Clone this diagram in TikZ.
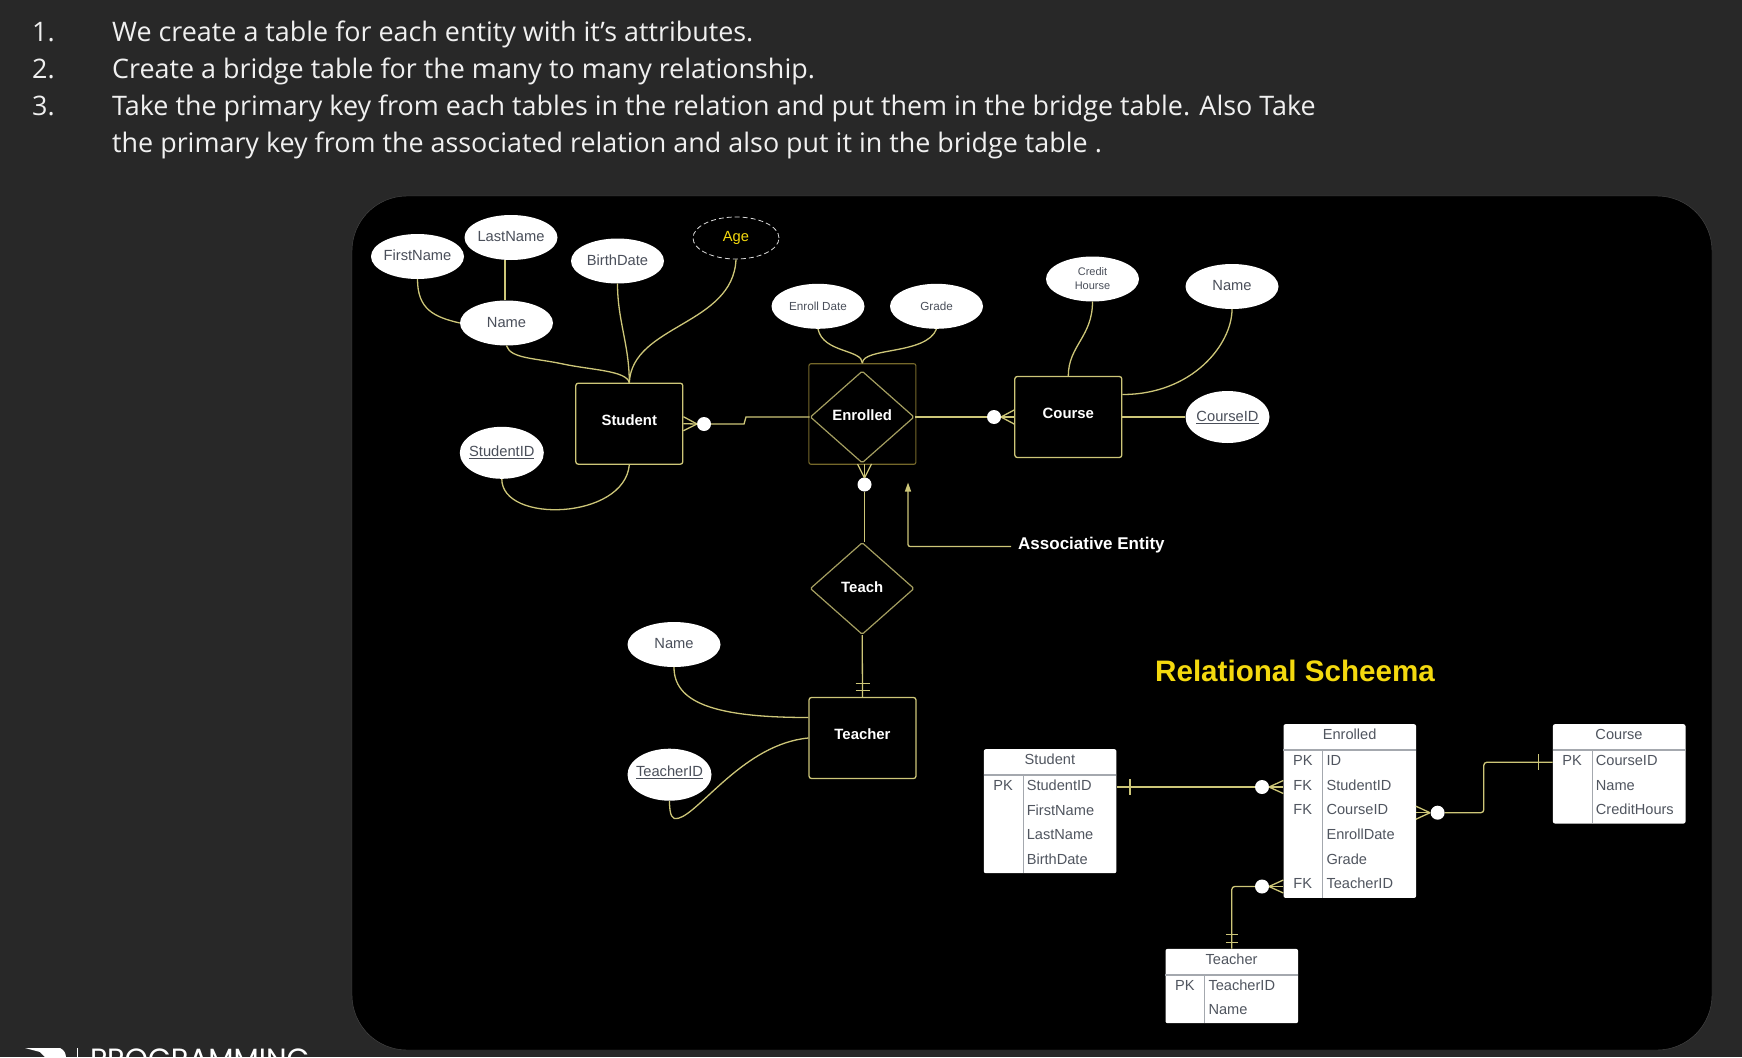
\documentclass[tikz,border=0pt]{standalone}
\usepackage{fontspec}
\setmainfont{Liberation Sans}
\newfontfamily\slidefont{Open Sans}
\newfontfamily\logofont{Poppins}
\usetikzlibrary{shapes.geometric,arrows.meta,calc}
\definecolor{slidebg}{HTML}{282828}
\definecolor{connline}{HTML}{CDC678}
\definecolor{dimline}{HTML}{75682A}
\definecolor{attrtext}{HTML}{4A4F5A}
\definecolor{tabletext}{HTML}{50555F}
\definecolor{tableline}{HTML}{A4A8AE}
\definecolor{agetext}{HTML}{F4D90E}
\newcommand{\fsize}[1]{\fontsize{#1}{#1}\selectfont}
\tikzset{
  panel/.style={fill=black, draw=black!70!white, rounded corners=55, minimum width=1360, minimum height=854, inner sep=0pt},
  slideline/.style={anchor=base west, inner sep=0pt, text=white!94!black, font=\slidefont\fsize{26.9}},
  attr/.style={ellipse, fill=white, text=attrtext, inner xsep=-10pt, inner ysep=0pt, minimum width=93, minimum height=45, text height=10.7, text depth=2.1, font=\fsize{14.7}},
  keyattr/.style={attr, inner xsep=-15pt, minimum width=84, minimum height=52},
  smallattr/.style={attr, font=\fsize{11.7}},
  entity/.style={draw=connline, line width=1.3pt, rounded corners=2.5, fill=black, text=white, inner sep=0pt, minimum width=107, minimum height=81, text height=10.7, text depth=7.1, font=\bfseries\fsize{14.9}},
  relation/.style={diamond, draw=connline!80!black, line width=1.2pt, rounded corners=1.5, text=white, inner sep=0pt, minimum width=104, minimum height=92, text height=10.7, text depth=3.1, font=\bfseries\fsize{14.9}},
  conn/.style={draw=connline, line width=1.3pt},
  dot/.style={circle, fill=white, inner sep=0pt, minimum size=14},
  tablebox/.style={fill=white, rounded corners=2, inner sep=0pt, anchor=north west, minimum width=132.6},
  tablecell/.style={text=tabletext, inner sep=0pt, text height=1.5ex, text depth=0.25ex, font=\fsize{14.6}},
}
\newcommand{\ertable}[6]{
  \node[tablebox, minimum height=#4] (#1) at (#2,#3) {};
  \draw[tableline, line width=1.6pt] (#2,{#3+26}) -- ({#2+132.6},{#3+26});
  \draw[tableline, line width=1pt] ({#2+39.5},{#3+26}) -- ({#2+39.5},{#3+#4});
  \node[tablecell] (#1-title) at ({#2+66.3},{#3+12.5}) {#5};
  \foreach \key/\field [count=\i] in {#6} {
    \node[tablecell] (#1-key-\i) at ({#2+19.5},{#3+38.3+(\i-1)*24.67}) {\key};
    \node[tablecell, anchor=west] (#1-field-\i) at ({#2+43},{#3+38.3+(\i-1)*24.67}) {\field};
  }
}
\begin{document}
\begin{tikzpicture}[x=1pt,y=-1pt]
  \useasboundingbox[fill=slidebg] (0,0) rectangle (1742,1057);
  \begin{scope}
    \clip (0,0) rectangle (1742,1057);
    \fill[white] (25,1048) -- (60,1048) .. controls (64,1050) and (66,1053) .. (66,1058) -- (46,1058) -- (40,1052) -- cycle;
    \draw[white, line width=0.8pt] (77,1048) -- (77,1058);
    \node[anchor=base west, inner sep=0pt, text=white, font=\logofont\fsize{29.3}] (logotext) at (90,1069) {PROGRAMMING};
  \end{scope}

  \node[slideline] (num1) at (32,41.3) {1.};
  \node[slideline] (num2) at (32,78.3) {2.};
  \node[slideline] (num3) at (32,115.3) {3.};
  \node[slideline] (line1) at (112,41.3) {We create a table for each entity with it’s attributes.};
  \node[slideline] (line2) at (112,78.3) {Create a bridge table for the many to many relationship.};
  \node[slideline] (line3) at (112,115.3) {Take the primary key from each tables in the relation and put them in the bridge table. Also Take};
  \node[slideline] (line4) at (112,152.3) {the primary key from the associated relation and also put it in the bridge table .};

  \node[panel] (board) at (1032,623) {};

  \node[entity] (student) at (629.3,423.7) {Student};
  \node[draw=dimline, line width=1.1pt, rounded corners=2, inner sep=0pt, minimum width=107, minimum height=100.5] (enrolledbox) at (862.4,414) {};
  \node[relation] (enrolled) at (862.2,417) {Enrolled};
  \node[entity] (course) at (1068.3,417) {Course};
  \node[relation] (teach) at (862.2,588.5) {Teach};
  \node[entity] (teacher) at (862.5,738) {Teacher};

  \node[attr] (firstname) at (417.5,256.5) {FirstName};
  \node[attr] (lastname) at (511,237.5) {LastName};
  \node[attr] (birthdate) at (617.5,261) {BirthDate};
  \node[attr] (name) at (506.5,323) {Name};
  \node[ellipse, draw=white!85!black, dash pattern=on 5pt off 3pt, line width=0.8pt, inner sep=0pt, minimum width=86, minimum height=42, text=agetext, font=\fsize{14.7}] (age) at (736,238) {Age};
  \node[keyattr, text depth=3.5] (studentid) at (501.8,452.8) {\underline{StudentID}};
  \node[smallattr] (enrolldate) at (818,306.3) {Enroll Date};
  \node[smallattr] (grade) at (936.5,306.3) {Grade};
  \node[attr, text height=, text depth=, align=center, font=\fsize{11}] (credit) at (1092.5,279) {Credit\\[3pt]Hourse};
  \node[attr] (coursename) at (1232,286.5) {Name};
  \node[keyattr] (courseid) at (1227.5,417) {\underline{CourseID}};
  \node[attr] (teachername) at (674,644.5) {Name};
  \node[keyattr, text depth=7] (teacherid) at (669.5,774.7) {\underline{TeacherID}};

  \draw[conn] (firstname.south) .. controls +(0,30) and +(-26,-6) .. (name.west);
  \draw[conn] (name.north -| 505,0) -- (lastname.south -| 505,0);
  \draw[conn] (name.south) .. controls +(4,13) and +(-28,-6) .. (563,364) .. controls +(28,6) and +(-3,-12) .. (student.north);
  \draw[conn] (birthdate.south) .. controls +(0,37) and +(0,-38) .. (student.north);
  \draw[conn] (age.south) .. controls +(-3,66) and +(3,-58) .. (student.north);
  \draw[conn] (studentid.south) .. controls +(0,45) and +(-5,55) .. (student.south);
  \draw[conn] (enrolldate.south) .. controls +(5,24) and +(0,-14) .. (enrolledbox.north);
  \draw[conn] (grade.south) .. controls +(-10,26) and +(0,-16) .. (enrolledbox.north);
  \draw[conn] (credit.south) .. controls +(0,35) and +(0,-30) .. (course.north);
  \draw[conn] (coursename.south) .. controls +(0,35) and +(70,0) .. ($(course.east)+(0,-22.5)$);
  \draw[conn] (course.east) -- (courseid.west);
  \draw[conn] (teachername.south) .. controls +(0,35) and +(-95,0) .. ($(teacher.west)+(0,-20.5)$);
  \draw[conn] (teacherid.south) .. controls +(0,15) and +(-6,2) .. (678.3,818.3) .. controls +(22,-6) and +(-64,6) .. (teacher.west);

  \node[dot] (dotstudent) at (704,424) {};
  \node[dot] (dotcourse) at (994,417) {};
  \node[dot] (dotenrolled) at (864.5,484.5) {};
  \draw[conn] (dotstudent) -- (744,424) -- (746,417) -- (enrolled.west);
  \draw[conn] (enrolled.east) -- (dotcourse);
  \draw[conn] (dotenrolled) -- (dotenrolled |- teach.north);
  \draw[conn] (teach.south) -- (teacher.north);
  \foreach \dy in {-7,0,7} {
    \draw[conn] (697,424) -- ($(student.east)+(0,\dy)$);
    \draw[conn] (1001,417) -- ($(course.west)+(0,\dy)$);
    \draw[conn] (864.5,478) -- (864.5+\dy,464);
  }
  \draw[conn] (855.5,683.5) -- (869.5,683.5);
  \draw[conn] (855.5,690.7) -- (869.5,690.7);

  \node[inner sep=0pt, anchor=west, text=white, font=\bfseries\fsize{17}] (assoclabel) at (1018,545) {Associative Entity};
  \draw[conn, rounded corners=2, -{Triangle[width=6,length=9]}] ($(assoclabel.west)+(-7,1.5)$) -| (908,482.5);

  \node[inner sep=0pt, text=agetext, font=\bfseries\fsize{29.6}] (schematitle) at (1295,671) {Relational Scheema};

  \ertable{tstudent}{983.6}{749}{124}{Student}{PK/StudentID,{}/FirstName,{}/LastName,{}/BirthDate}
  \ertable{tenrolled}{1283.3}{724}{173.7}{Enrolled}{PK/ID,FK/StudentID,FK/CourseID,{}/EnrollDate,{}/Grade,FK/TeacherID}
  \ertable{tcourse}{1552.7}{724}{99.3}{Course}{PK/CourseID,{}/Name,{}/CreditHours}
  \ertable{tteacher}{1165.3}{948.7}{74.3}{Teacher}{PK/TeacherID,{}/Name}

  \node[dot] (dottstudent) at (1262,787) {};
  \node[dot] (dottcourse) at (1437.6,812.7) {};
  \node[dot] (dotttacher) at (1262,886.5) {};
  \draw[conn, line width=1.6pt] (tstudent.east |- dottstudent) -- (dottstudent);
  \draw[conn] (1130,779) -- (1130,795);
  \draw[conn, rounded corners=3] (dottcourse) -| (1483.8,762.3) -- (tcourse.west |- 0,762.3);
  \draw[conn] (1538.6,754.3) -- (1538.6,770.3);
  \draw[conn, rounded corners=3] (dotttacher) -| (tteacher.north);
  \draw[conn] (1225.8,934.3) -- (1237.8,934.3);
  \draw[conn] (1225.8,942.7) -- (1237.8,942.7);
  \foreach \dy in {-6.5,0,6.5} {
    \draw[conn] (1269,787) -- (1283.3,787+\dy);
    \draw[conn] (1430,812.7) -- (1415.9,812.7+\dy);
    \draw[conn] (1269,886.5) -- (1283.3,886.5+\dy);
  }
\end{tikzpicture}
\end{document}
